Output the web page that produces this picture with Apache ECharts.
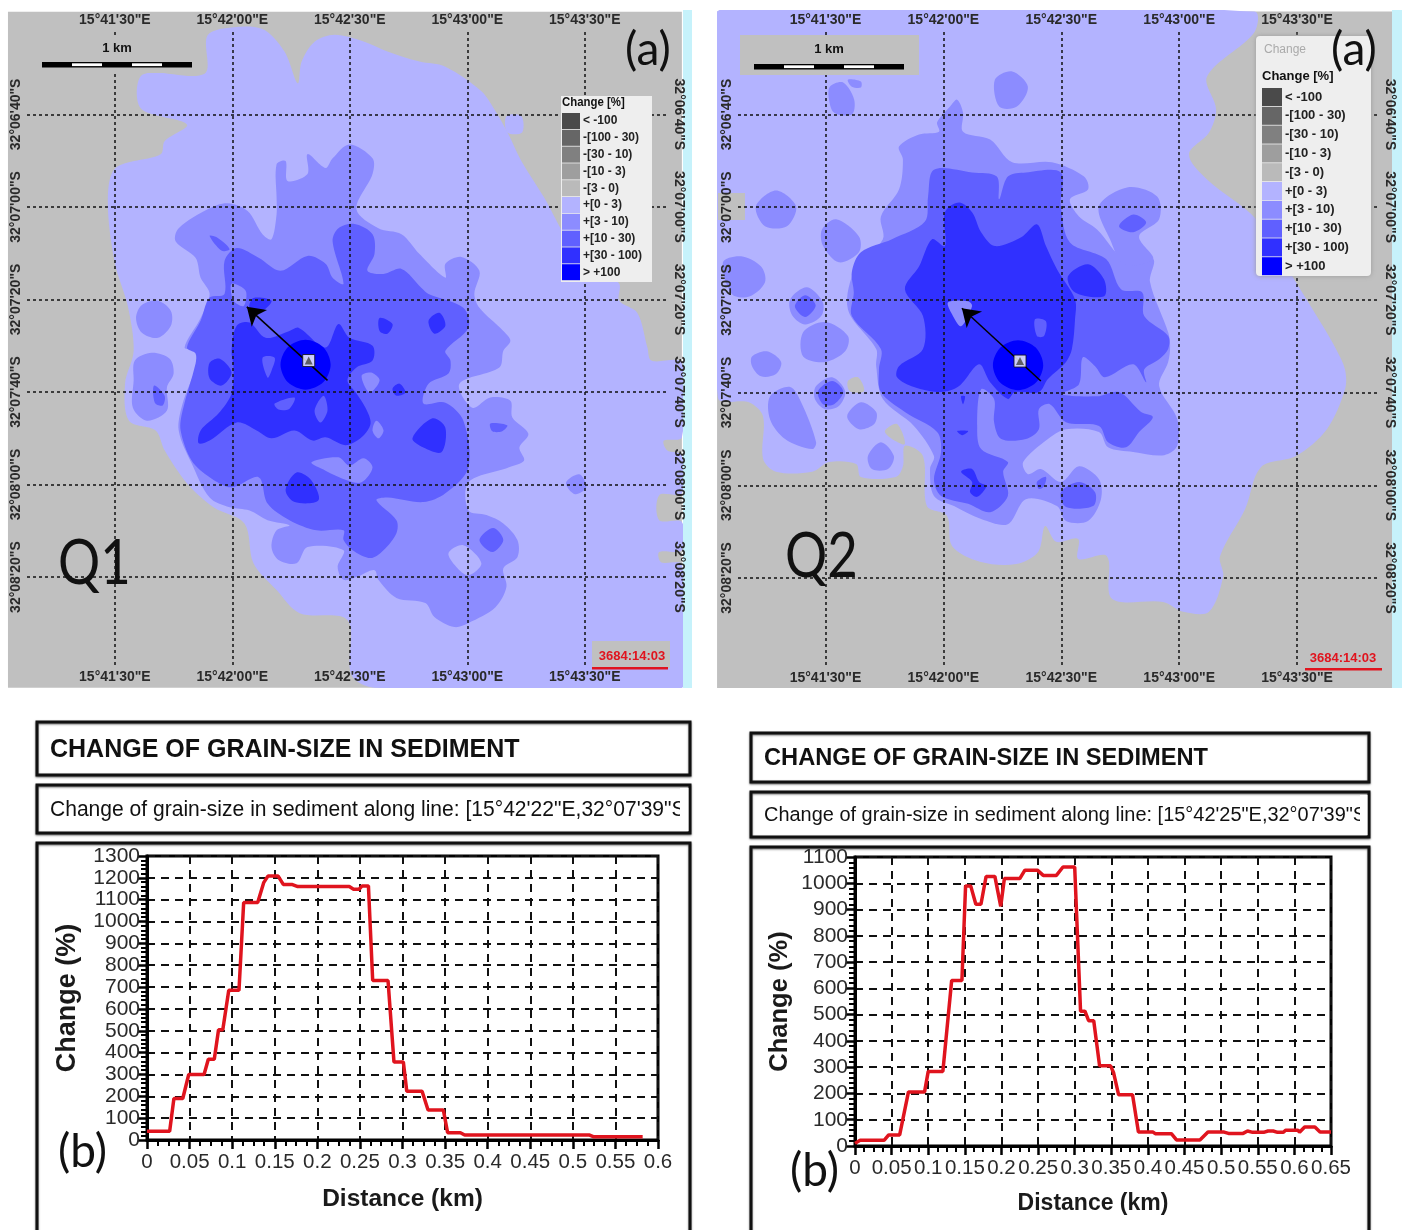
<!DOCTYPE html>
<html><head><meta charset="utf-8">
<script src="https://cdn.jsdelivr.net/npm/echarts@6/dist/echarts.min.js"></script>
<style>html,body{margin:0;padding:0;background:#fff}#c{width:1402px;height:1230px}</style>
</head><body><div id="c"></div>
<script>
// ---- class legend ----
const classNames=['< -100','-[100 - 30)','-[30 - 10)','-[10 - 3)','-[3 - 0)','+[0 - 3)','+[3 - 10)','+[10 - 30)','+[30 - 100)','> +100'];
const classColors=['#4a4a4a','#666666','#808080','#9e9e9e','#bababa','#b3b3ff','#8c8cff','#6060ff','#3030ff','#0000ff'];
// ---- map ticks: arc-seconds after 15°41'00"E and after 32°06'00"S ----
const lonTicks=[30,60,90,120,150];
const lonLabels=['15°41\'30"E','15°42\'00"E','15°42\'30"E','15°43\'00"E','15°43\'30"E'];
const latTicks=[40,60,80,100,120,140];
const latLabels=['32°06\'40"S','32°07\'00"S','32°07\'20"S','32°07\'40"S','32°08\'00"S','32°08\'20"S'];
// ---- Q1 contour bands, [lon s, lat s] ----
const q1Frame=[[[2.7,17.8],[174.8,17.8],[174.8,163.9],[2.7,163.9]]];
const q1Band0=[
[[52.9,31.2],[53.5,23.2],[57.3,21.5],[67.5,21.5],[73.3,26.4],[76.7,33.3],[77.7,28.6],[81,24.3],[86.1,22.8],[93.7,24.3],[99.6,26.4],[107.8,28.6],[114.4,29.7],[123.6,35],[126.9,38.9],[130.5,44.3],[133.8,50.1],[139.7,58.1],[146,67.4],[153.7,72.8],[158.8,76.6],[158.8,80.3],[163.4,82.9],[166,90.4],[167,93.2],[174.8,93.7],[174.8,109.8],[170.2,110.5],[171,112.6],[174.8,113.7],[174.8,121.9],[169,122.3],[169,127.7],[174.8,128.1],[174.8,134.2],[169,134.6],[169.5,136.8],[174.8,137.4],[174.8,163.9],[96.3,163.9],[90.4,161.1],[89.4,149.3],[77.2,147.8],[71.3,142.8],[65.4,137],[63.1,128.4],[55.2,124.9],[48.4,119.7],[42.7,112.6],[40.4,108.3],[33.6,106.2],[32.6,98.2],[34.8,91.1],[33.3,81.4],[30,72.1],[28.2,58.7],[30.2,51.6],[41.7,48.6],[42.7,45.8],[48.4,42.2],[36.6,38.7],[37.1,31.4]],
[[130,40.4],[133.8,40.4],[134,43.9],[130.2,43.9]]
];
const q1Band3=[
[[85.6,49.5],[89.9,46.5],[95.8,49.5],[95.8,52.9],[91.7,60.5],[97.3,64.6],[103.2,65.9],[107.8,70.2],[114.4,75.3],[114.4,72.3],[118.5,70.8],[123.1,73.8],[121.8,78.8],[123.1,81.8],[129.2,86.8],[131,88.9],[129.2,91.1],[128.2,94.7],[118,98.2],[121.3,103.4],[125.9,101.2],[131,101.9],[131.5,105.5],[135.6,109],[133.3,112],[134.5,114.8],[130.5,116.3],[120.3,119.5],[120.3,125.6],[124.9,126.6],[129.2,128.4],[132.8,132],[132.8,135.7],[129.2,138.1],[130,142.1],[127.2,146.5],[120.3,149.9],[116.7,150.8],[111.6,148.6],[109.3,145.6],[101.9,144.5],[97.3,140.6],[96.3,138.5],[91.7,140],[88.4,140.6],[86.9,137.8],[88.4,134.2],[79.2,133.5],[76.4,137],[71.8,136.3],[70,133.5],[71.3,129.9],[74.6,128.8],[69,127.7],[64.4,125.6],[59.3,124.9],[54.2,122.8],[49.6,115.4],[46.3,108.3],[47.3,102.5],[50.6,94.7],[50.6,91.1],[47.8,90.4],[51.9,84],[54.2,78.8],[51.9,75.3],[50.6,71],[45.5,67.4],[46.3,64.6],[54.2,60.3],[58.8,59.2],[63.9,60.9],[67.7,65.9],[70,67],[71.3,61.6],[71.3,58.1],[71.3,50.8],[73.6,50.1],[74.1,54.4],[79.2,52.9],[79.2,48.6],[83.8,51.6]],
[[35.4,84],[36.9,81.2],[41,80.3],[44.3,82.5],[44.3,85.7],[41,88.3],[36.9,87.2]],
[[35.1,93.2],[39.4,91.5],[44,92.8],[45,96],[43.3,99],[43.3,104],[38.2,106.2],[34.6,103.4],[34.8,97.5]],
[[145.2,119.6],[148.6,117.8],[150.4,120.6],[147.5,122.1]]
];
const q1Band0Holes=[[[115.2,134.8],[119,133.1],[123.6,137],[120.3,139.6],[117.2,137.8]]];
const q1Band10=[
[[91.2,63.7],[95.8,65.9],[96.3,70.2],[94.5,73.8],[98.6,74.5],[103.2,73.4],[108.3,77.5],[110.1,78.8],[119,81.8],[120.3,86.1],[114.4,91.1],[115.7,93.2],[115.2,96],[110.1,98.2],[108.8,102.5],[114.4,102.3],[119,106.2],[120.3,116.3],[114.4,121.9],[108.8,123.8],[99.6,122.8],[96.8,123.4],[101.9,127.7],[101.9,130.5],[98.6,134.2],[95.3,135.9],[90.7,134.2],[88.4,132],[88.4,129.9],[81.5,129.9],[74.6,127.7],[69,124.1],[66.7,118.4],[59.8,120.6],[54.2,118.4],[49.6,114.8],[46.8,108.3],[47.3,104],[50.6,93.9],[50.6,91.7],[48.4,90.4],[51.9,84.6],[54.2,79.6],[58,78.8],[58,71.7],[61.1,68.9],[66.7,71],[72.3,73.8],[79.2,70.6],[83.8,72.3],[85.6,75.3],[88.4,76.6],[85.6,67.4],[87.1,64.6]],
[[54.2,66.3],[56.3,66.7],[59.3,69.1],[57.3,69.5]],
[[40,98.6],[42.7,100.8],[42.2,102.9],[40.2,102.3]],
[[125.9,106.8],[130.2,107.2],[128.9,108.5],[126.4,108.5]],
[[123.1,132],[126.6,129.4],[129.2,132],[126.4,134.6]]
];
const q1Band3Holes=[
[[80.2,115.2],[87.1,114.1],[89.9,115.9],[93.5,114.3],[95.8,116.3],[93,119.5],[89.4,119.1],[83.8,117]],
[[93,96.5],[95.5,95.8],[97.6,97.5],[95,100.1]],
[[96.8,106.2],[98.6,108.3],[97.3,110],[95.8,108.3]],
[[59.8,76.6],[63.4,78.1],[62.9,81.4],[60.3,80.3]]
];
const q1Band30=[
[[61.1,85.7],[64.4,85],[68.5,88.3],[74.6,86.8],[76.9,86.1],[83.8,90.4],[87.1,85.3],[89.9,88.3],[95.8,90],[95.8,93.2],[91.7,94.7],[89.4,97.5],[91.7,100.3],[94,103.4],[95.3,106.8],[93,109.8],[88.9,111.5],[83.8,109.8],[80.5,110.5],[75.9,108.3],[70,110],[66.2,108.3],[61.1,106.6],[54.2,110.5],[51.4,111.1],[51.9,108.3],[56.5,104.6],[59.8,100.3],[60.3,94.7],[59.8,91.1]],
[[54.2,93.7],[56.8,92.8],[59.8,95.8],[57.3,98.6],[54.2,97.1]],
[[65.4,79.7],[70,80.3],[67.7,82.4],[64.4,81.8]],
[[97.6,84],[100.9,85.3],[99.6,87.4],[97.6,86.8]],
[[110.1,84.6],[112.9,82.9],[114.4,85.7],[111.6,87.4]],
[[106,110],[111.1,105.7],[114.4,107.7],[113.4,113],[108.8,112]],
[[73.6,121.2],[76.4,117.4],[80.2,119.1],[82,123.4],[75.9,123.8]],
[[100.9,99.3],[102.7,98.2],[104.2,100.1],[101.9,100.8]]
];
const q1Band10Holes=[
[[67.7,92.6],[70.8,92.6],[70,95.4],[69,96.9]],
[[70.8,102.5],[75.9,101.2],[74.6,103.6],[71.8,103.8]],
[[81,104],[83.3,100.8],[84.3,104],[82.5,106.6]]
];
const q1Band100=[[[72.3,94.1],[74.2,90.3],[78.7,88.7],[83.2,90.3],[85.1,94.1],[83.2,97.9],[78.7,99.5],[74.2,97.9]]];
const q1Source=[[79.5,93.2]];
const q1Transect=[[84.3,97.5],[63.7,81.6]];
// ---- Q2 contour bands ----
const q2Frame=[[[2.4,17.8],[174.2,17.8],[174.2,164],[2.4,164]]];
const q2Band0=[[[2.4,17.8],[139.1,17.8],[139.1,22.3],[127.1,31.8],[129.4,38.9],[127.6,43.9],[122.5,48.6],[127.1,54],[139.6,62.6],[150.8,77.7],[156.6,85.7],[159.9,90.6],[162.2,95],[162.2,99.3],[157.6,107.9],[149.7,113.7],[140.8,116.1],[136.8,125.1],[130.4,135.3],[131.2,139.6],[127.6,147.3],[121,147.3],[115.9,145.2],[102.9,144.5],[101.6,135.3],[94.3,135.9],[94.3,131.6],[88.7,132.2],[85.9,128.8],[84.1,134.4],[78.5,137],[69.3,136.5],[62.2,133.1],[60.9,126.6],[55.8,124.5],[54.8,113.7],[50.2,111.5],[49.7,115.9],[47.9,118.2],[39,118.2],[37.8,115.4],[30.9,115],[26.6,117.1],[17.4,117.1],[14.1,114.3],[14.1,105.1],[10.5,102.1],[2.6,101]]];
const q2LandHoles=[
[[35.7,97.5],[38.3,96.7],[39.8,99.7],[36.2,99.7]],
[[45.1,108.3],[48.2,106.8],[50.2,111.1],[46.9,110]]
];
const q2Band3=[
[[63.5,36.8],[65,39.6],[65,43.7],[71.9,45.4],[77.5,50.3],[87.6,50.3],[95.8,53.4],[96.8,56.2],[92.2,58.3],[94.5,62],[99.1,64.8],[106,71.2],[113.4,71.2],[112.6,76.2],[117.2,87],[117.7,90],[117.2,93.4],[114.9,98.6],[119.5,105.7],[119.5,111.5],[116.2,113.5],[108.3,112.8],[101.9,111.8],[99.6,108.5],[91.2,107.9],[86.6,110],[80.3,115],[81.5,117.6],[84.8,116.5],[89.9,119.3],[94.5,115.9],[99.6,118.7],[100.1,123],[96.8,127.7],[91.2,127.7],[88.9,124.5],[81,123],[76.4,128.4],[69.6,127.3],[62.7,124.5],[57.6,122.3],[56.6,116.5],[57.6,113.7],[52.5,107.2],[44.6,101.4],[42.9,94.3],[42.9,90.6],[35.7,82],[37.8,72.8],[44.6,66.9],[44.1,62],[48.7,56.2],[49.7,49.7],[48.7,46.9],[53.8,44.3],[58.9,43.7],[58.4,41.7],[61.7,38.3]],
[[99.6,59.8],[107,55.7],[114.4,57.7],[114.9,62.6],[109.8,66.3],[113.4,71.2],[106,72.3],[102.4,66.9]],
[[31.1,34],[34.5,33.1],[37.3,36.8],[36.7,40],[32.2,39.6],[30.9,36.8]],
[[35.7,32.5],[39,32.9],[39,34.2],[36.7,34]],
[[73.1,32.5],[77.5,30.7],[81.5,34],[78.7,38.3],[74.2,38.3]],
[[12.3,59.8],[17.4,56.4],[22.5,59.8],[20.2,64.1],[14.6,64.1]],
[[29.1,64.8],[32.7,62.6],[38.5,66.3],[38.5,69.7],[33.4,71.9],[29.4,68.4]],
[[3.9,71.9],[8.5,70.6],[13.6,72.8],[14.6,76.2],[10.8,79.2],[6.2,78.8]],
[[21,79.9],[25.3,77.3],[29.3,80.5],[28.9,83.5],[24.8,85.3],[21.5,83.3]],
[[24.3,87],[29.9,84.8],[35.7,87.8],[35,91.1],[29.9,93.4],[24.3,92.2]],
[[11.3,92.2],[15.1,91.1],[18.7,93.4],[17.4,96],[13.6,96.5],[11.3,94.3]],
[[27.6,98.6],[31.7,96.7],[35,99.7],[33.4,102.9],[29.9,103.6],[27.3,101.4]],
[[15.9,100.8],[21,98.8],[23.8,102.1],[27.6,110.7],[26.6,112.2],[19.7,110],[15.9,105.8]],
[[35.5,105.1],[39,102.1],[42.9,104.2],[42.4,106.8],[38.5,107.9]],
[[40.8,113.7],[44.1,110.7],[47.4,113.7],[45.9,116.5],[41.8,116.5]]
];
const q2Band10=[
[[57.6,51.9],[67.3,52.5],[73.6,53.4],[74.2,58.3],[76.4,53.4],[81,52.5],[89.9,52.5],[89.9,59.8],[92.2,67.6],[101.4,71.2],[105.2,77.7],[110.6,78.4],[111.1,83.5],[117.2,87.8],[117.2,90.6],[114.9,92.8],[111.1,95],[111.6,97.8],[108.3,93.9],[101.1,96.7],[98.6,94.3],[95.5,92.4],[94.5,98.2],[90.2,100.3],[99.1,100.8],[104.7,99.9],[110.3,104.2],[113.3,105.3],[109.8,108.5],[106.5,111.8],[101.9,110.7],[99.6,107.2],[91.2,106.4],[87.1,102.5],[84.3,103.6],[84.3,107.9],[81,110],[74.7,110],[72.9,106.4],[72.9,101.4],[69.6,99.3],[68.6,107.2],[69.6,112.2],[76.4,115],[75.2,117.1],[76.4,122.3],[71.9,125.8],[66.3,124],[59.4,122.3],[57.6,118.7],[59.4,112.8],[58.4,108.5],[50.2,104.2],[44.1,99.9],[43.6,95],[44.1,90.6],[36.7,83.5],[37.2,78.4],[36.7,74],[39,69.7],[46.9,66.9],[55.3,63.1],[56.1,57.7]],
[[104.7,64.1],[108.3,61.6],[111.6,63.3],[108.3,65.4]],
[[89.9,121.5],[94.5,119.3],[98.6,121.5],[98.1,124.5],[91.2,124.7]],
[[83.8,119.3],[86.1,118.2],[85.6,120.2],[84.3,120.8]],
[[22.2,81.4],[24.8,79],[27.5,81.2],[24.8,83.7]],
[[28.1,99.7],[31.7,97.5],[34.5,99.7],[32.2,102.5],[29.4,102.5]]
];
const q2Band30=[
[[64,59],[67.3,61.1],[69.6,65.4],[73.1,68.4],[79.8,66.5],[83.8,63.7],[86.1,68.4],[88.9,73.4],[93.5,79.9],[93.5,84.2],[92.7,90.6],[91.2,93.4],[86.6,97.1],[84.3,99.9],[78.2,99.9],[76.4,101.4],[71.9,97.8],[69.1,93.9],[64,98.6],[59.4,99.9],[52.5,98.8],[48.2,96.7],[48.7,94.3],[54.8,90.6],[54.8,83.5],[50.2,77.7],[53.8,72.8],[57.1,66.9],[60.4,68.4],[60.4,61.1]],
[[91.7,74.9],[96.8,72.3],[100.9,75.6],[100.9,79.2],[93.5,78.4]],
[[64.5,117.1],[67.3,116.5],[69.1,119.3],[70.9,120.2],[68.6,122.5],[66.8,121.5],[67.3,119.3]],
[[63.5,108.3],[66.3,108.3],[64.8,109.2]],
[[64.5,100.8],[65.5,100.8],[65,102.5]]
];
const q2Band3Holes=[[[61.2,80.5],[66.3,80.3],[67.3,81.4],[64.5,85.7],[62.2,83.1]]];
const q2Band10Holes=[[[83.3,84.2],[86.1,84.6],[85.6,87.8],[83.8,87.8]]];
const q2Band100=[[[72.6,94.1],[74.5,90.3],[79,88.7],[83.5,90.3],[85.4,94.1],[83.5,97.9],[79,99.5],[74.5,97.9]]];
const q2Source=[[79.5,93.2]];
const q2Transect=[[84.8,97.5],[64.7,81.8]];
// ---- profile line charts ----
const q1Distance=[0,.0266,.0316,.042,.049,.067,.072,.079,.084,.089,.096,.108,.1135,.13,.137,.142,.154,.16,.17,.177,.2375,.2425,.249,.2526,.26,.265,.283,.29,.301,.305,.323,.33,.348,.353,.368,.373,.519,.524,.582];
const q1Change=[40,40,190,190,300,300,370,370,505,505,685,685,1087,1087,1178,1208,1208,1170,1170,1160,1160,1148,1148,1163,1163,730,730,357,357,223,223,137,137,33,33,23,23,15,15];
const q2Distance=[0,.007,.04,.046,.061,.073,.095,.1,.12,.132,.146,.151,.158,.165,.172,.179,.191,.199,.204,.225,.232,.249,.257,.275,.284,.3,.308,.314,.319,.326,.334,.349,.353,.36,.379,.387,.407,.41,.432,.439,.471,.482,.504,.51,.53,.536,.543,.558,.564,.571,.577,.585,.588,.605,.607,.614,.628,.635,.65];
const q2Change=[10,22,22,42,42,206,206,284,284,630,630,990,990,920,920,1026,1026,912,1018,1018,1050,1050,1030,1030,1062,1062,513,513,477,477,305,305,280,195,195,53,53,47,47,23,23,53,53,48,48,57,52,52,57,57,52,52,60,60,52,72,72,53,53];
const q1DistanceTicks=['0','0.05','0.1','0.15','0.2','0.25','0.3','0.35','0.4','0.45','0.5','0.55','0.6'];
const q2DistanceTicks=['0','0.05','0.1','0.15','0.2','0.25','0.3','0.35','0.4','0.45','0.5','0.55','0.6','0.65'];
const chartTitle='CHANGE OF GRAIN-SIZE IN SEDIMENT';
const q1Subtitle='Change of grain-size in sediment along line: [15°42\'22"E,32°07\'39"S';
const q2Subtitle='Change of grain-size in sediment along line: [15°42\'25"E,32°07\'39"S';

// ---- option builders ----
const SANS='"Liberation Sans",Arial,sans-serif';
const series=[];
function band(name,color,polys,xi,yi,smooth=.32){
  series.push({type:'custom',name,coordinateSystem:'cartesian2d',xAxisIndex:xi,yAxisIndex:yi,silent:true,z:2,
    itemStyle:{color},animation:false,
    data:polys.map(p=>p[0]),
    renderItem:(params,api)=>({type:'polygon',shape:{points:polys[params.dataIndex].map(c=>api.coord(c)),smooth},style:{fill:color}})});
}
function mapLayers(xi,yi,layers,source,transect){
  layers.forEach(([cls,polys])=>{
    if(cls===-2) band('Land','#c0c0c0',polys,xi,yi,0);
    else if(cls===-1) band('Land','#c0c0c0',polys,xi,yi);
    else band(classNames[cls],classColors[cls],polys,xi,yi);
  });
  for(let i=0;i<5;i++) band(classNames[i],classColors[i],[],xi,yi);
  series.push({type:'scatter',name:'Source',xAxisIndex:xi,yAxisIndex:yi,z:7,silent:true,data:source,symbol:'rect',symbolSize:12,
    itemStyle:{color:'#fff',borderColor:'#111',borderWidth:1},
    markLine:{silent:true,symbol:['none','arrow'],symbolSize:17,animation:false,label:{show:false},
      lineStyle:{color:'#000',width:1.5,type:'solid'},
      data:[[{coord:transect[0]},{coord:transect[1]}]]}});
  series.push({type:'scatter',name:'SourceIcon',xAxisIndex:xi,yAxisIndex:yi,z:8,silent:true,data:source,symbol:'triangle',symbolSize:8,itemStyle:{color:'#444'}});
}
mapLayers(0,0,[[-2,q1Frame],[5,q1Band0],[6,q1Band3],[5,q1Band0Holes],[7,q1Band10],[6,q1Band3Holes],[8,q1Band30],[7,q1Band10Holes],[9,q1Band100]],q1Source,q1Transect);
mapLayers(2,2,[[-2,q2Frame],[5,q2Band0],[-1,q2LandHoles],[6,q2Band3],[7,q2Band10],[8,q2Band30],[6,q2Band3Holes],[7,q2Band10Holes],[9,q2Band100]],q2Source,q2Transect);
const pairs=(a,b)=>a.map((v,i)=>[v,b[i]]);
const RED='#e0141e';
series.push({type:'line',name:'Q1 change',xAxisIndex:4,yAxisIndex:4,showSymbol:false,data:pairs(q1Distance,q1Change),lineStyle:{color:RED,width:3.5},itemStyle:{color:RED},z:6,animation:false});
series.push({type:'line',name:'Q2 change',xAxisIndex:5,yAxisIndex:5,showSymbol:false,data:pairs(q2Distance,q2Change),lineStyle:{color:RED,width:3.5},itemStyle:{color:RED},z:6,animation:false});

function mapAxes(gi){
  const lonLab=v=>lonLabels[lonTicks.indexOf(v)];
  const latLab=v=>latLabels[latTicks.indexOf(v)];
  const lab={fontFamily:SANS,fontWeight:'bold',fontSize:14,color:'#2a2a2a'};
  const split={show:true,lineStyle:{color:'#111',width:1.5,type:[3,3]}};
  const X=(pos,showSplit,margin)=>({type:'value',gridIndex:gi,position:pos,min:gi===0?7.56:7.73,max:gi===0?171:170.6,z:5,
    axisLine:{show:false},axisTick:{show:false,customValues:lonTicks},
    axisLabel:{...lab,customValues:lonTicks,formatter:lonLab,margin},
    splitLine:showSplit?split:{show:false}});
  const Y=(pos,showSplit,rotate,margin)=>({type:'value',gridIndex:gi,position:pos,inverse:true,min:22.2,max:159,z:5,
    axisLine:{show:false},axisTick:{show:false,customValues:latTicks},
    axisLabel:{...lab,customValues:latTicks,formatter:latLab,rotate,margin},
    splitLine:showSplit?split:{show:false}});
  return {x:[X('top',true,5),X('bottom',false,5)],y:[Y('left',true,90,4),Y('right',false,-90,5)]};
}
const m1=mapAxes(0), m2=mapAxes(1);
function lineAxes(gi,xMax,yMax,ticks,xName,yName,xGap,yGap){
  const dash={show:true,lineStyle:{color:'#111',width:2,type:[8,6]}};
  return {
    x:{type:'value',gridIndex:gi,min:0,max:xMax,interval:.05,z:4,name:'Distance (km)',nameLocation:'middle',nameGap:xGap,
      nameTextStyle:{fontFamily:SANS,fontWeight:'bold',fontSize:xName,color:'#1a1a1a'},
      axisLine:{show:true,onZero:false,lineStyle:{color:'#000',width:3}},
      axisTick:{show:true,inside:false,length:9,lineStyle:{color:'#000',width:2.5}},minorTick:{show:true,splitNumber:4,length:6,lineStyle:{color:'#000',width:2}},
      axisLabel:{fontFamily:SANS,fontSize:20.5,color:'#2a2a2a',margin:12,formatter:(v)=>ticks[Math.round(v/.05)]},splitLine:dash},
    y:{type:'value',gridIndex:gi,min:0,max:yMax,interval:100,z:4,name:'Change (%)',nameLocation:'middle',nameGap:yGap,nameRotate:90,
      nameTextStyle:{fontFamily:SANS,fontWeight:'bold',fontSize:yName,color:'#1a1a1a'},
      axisLine:{show:true,onZero:false,lineStyle:{color:'#000',width:3}},
      axisTick:{show:true,inside:false,length:9,lineStyle:{color:'#000',width:2.5}},minorTick:{show:true,splitNumber:5,length:6,lineStyle:{color:'#000',width:2}},
      axisLabel:{fontFamily:SANS,fontSize:21,color:'#2a2a2a',margin:7,formatter:(v)=>String(v)},splitLine:dash}
  };
}
const l1=lineAxes(2,.6,1300,q1DistanceTicks,24.5,27,47,66);
const l2=lineAxes(3,.65,1100,q2DistanceTicks,23,25.5,46,62);

// ---- furniture ----
const box=(x,y,w,h)=>({type:'rect',z:1,shape:{x,y,width:w,height:h},style:{fill:'#fff',stroke:'#111',lineWidth:3,shadowBlur:2,shadowColor:'#777',shadowOffsetY:1}});
const txt=(x,y,text,fontSize,o={})=>({type:'text',x,y,z:o.z||60,scaleX:o.sx||1,style:{text,fontSize,fontFamily:o.ff||SANS,fontWeight:o.w||'normal',fill:o.c||'#111',align:o.a||'left',verticalAlign:'middle'}});
const rect=(x,y,w,h,fill,z=40,extra={})=>({type:'rect',z,shape:{x,y,width:w,height:h,...(extra.r?{r:extra.r}:{})},style:{fill,...(extra.style||{})}});
function scaleBar(x,y){const out=[rect(x,y,150,5.4,'#000',44)];[1,3].forEach(i=>out.push(rect(x+i*30,y+1.3,30,2.8,'#fff',45)));return out;}
const graphics=[
  // map edges, just above the contour bands and below the axes
  rect(683,8,9,681,'#c6f2fb',3),rect(1392,8,10,681,'#c6f2fb',3),rect(0,688,1402,30,'#fff',3),rect(0,0,1402,10,'#fff',3),
  rect(692,0,25,700,'#fff',3),
  rect(718,193,27,27,'#c0c0c0',3),
  // scale bars
  rect(32,38,173,35,'#c0c0c0',30),rect(740,35,179,40,'#c0c0c0',30),
  ...scaleBar(42,62),...scaleBar(754,64),
  txt(117,48,'1 km',13,{w:'bold',a:'center'}),txt(829,49,'1 km',13,{w:'bold',a:'center'}),
  // legend boxes
  rect(561,96,91,186,'#eeeeee',30),
  txt(562,103,'Change [%]',12,{w:'bold',sx:.95}),
  rect(1256,36,115,240,'#eeeeee',30,{r:4,style:{shadowBlur:5,shadowColor:'#999'}}),
  txt(1264,50,'Change',12,{c:'#aaa'}),txt(1262,76,'Change [%]',13,{w:'bold'}),
  // clock
  rect(592,641,78,27,'#c0c0c0',30),
  txt(632,656,'3684:14:03',13,{w:'bold',c:'#e0141e',a:'center'}),rect(592,667,76,2.5,'#e0141e',45),
  txt(1343,658,'3684:14:03',13,{w:'bold',c:'#e0141e',a:'center'}),rect(1305,668,77,2.5,'#e0141e',45),
  // panel letters
  txt(625,50,'(a)',46,{ff:'Lato',c:'#111'}),txt(1331,50,'(a)',46,{ff:'Lato',c:'#111'}),
  txt(58,564,'Q1',62,{ff:'Lato',sx:.85,c:'#111'}),txt(785,557,'Q2',62,{ff:'Lato',sx:.85,c:'#111'}),
  // profile boxes
  box(37,722,653,53),box(37,785,653,48),box(37,843,653,400),
  box(751,733,618,49),box(751,792,618,45),box(751,847,618,400),
  txt(50,750,chartTitle,25,{w:'bold'}),txt(764,758,chartTitle,24,{w:'bold',sx:.985}),
  txt(50,810,q1Subtitle,22,{sx:.957}),txt(764,815,q2Subtitle,20.5,{sx:.973}),
  rect(680,788,8.5,43,'#fff',61),rect(1360,795,7.5,40,'#fff',61),
  txt(58,1152,'(b)',46,{ff:'Lato',c:'#111'}),txt(790,1171,'(b)',46,{ff:'Lato',c:'#111'}),
];
const legendData=classNames.map((n,i)=>({name:n,icon:'rect',itemStyle:{color:classColors[i],borderWidth:0}}));

const chart=echarts.init(document.getElementById('c'),null,{renderer:'canvas'});
chart.setOption({
  animation:false,backgroundColor:'#fff',
  grid:[
    {left:27,top:32,width:640,height:633},
    {left:738,top:32,width:640,height:634},
    {left:147,top:856,width:511,height:284,show:true,borderColor:'#000',borderWidth:3,z:3},
    {left:855,top:857,width:476,height:289,show:true,borderColor:'#000',borderWidth:3,z:3}
  ],
  xAxis:[...m1.x,...m2.x,l1.x,l2.x],
  yAxis:[...m1.y,...m2.y,l1.y,l2.y],
  legend:[
    {left:562,top:113,orient:'vertical',itemWidth:18,itemHeight:16,itemGap:.8,padding:0,selectedMode:false,z:50,data:legendData,
      textStyle:{fontFamily:SANS,fontWeight:'bold',fontSize:12,color:'#222',padding:[0,0,0,-2]}},
    {left:1262,top:88,orient:'vertical',itemWidth:20,itemHeight:18,itemGap:.8,padding:0,selectedMode:false,z:50,data:legendData,
      textStyle:{fontFamily:SANS,fontWeight:'bold',fontSize:13,color:'#222',padding:[0,0,0,-2]}}
  ],
  series,
  graphic:{elements:graphics}
});
</script></body></html>
